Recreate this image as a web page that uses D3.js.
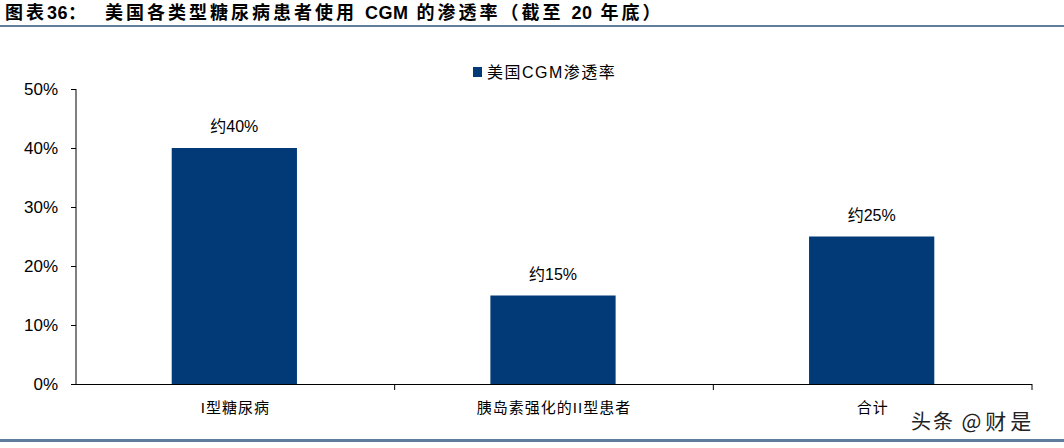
<!DOCTYPE html>
<html><head><meta charset="utf-8">
<script src="https://cdn.jsdelivr.net/npm/d3@7/dist/d3.min.js"></script>
<style>body{margin:0;background:#fff}svg{display:block}</style>
</head><body><svg id="c" width="1064" height="448"></svg>
<script>
const categories = ["I型糖尿病", "胰岛素强化的II型患者", "合计"];
const values = [40, 15, 25];
const valueLabels = ["约40%", "约15%", "约25%"];
const yTicks = [0, 10, 20, 30, 40, 50];
const seriesName = "美国CGM渗透率";
const titlePrefixParts = ["图表", "36", "："];
const titleParts = ["美国各类型糖尿病患者使用 ", "CGM", " 的渗透率（截至 ", "20", " 年底）"];

const svg = d3.select("#c");
const cjk = "'Liberation Sans', 'Noto Sans CJK SC', sans-serif";
const latin = "'Liberation Sans', Arial, sans-serif";
const barColor = "#023a78";
const ruleColor = "#5f7d9c";

// title
const tp = svg.append("text").attr("x", 5).attr("y", 19).attr("font-family", cjk)
  .attr("font-weight", "bold").attr("font-size", 18).attr("fill", "#000");
titlePrefixParts.forEach((p, i) => {
  tp.append("tspan").attr("letter-spacing", i % 2 ? 0.5 : 3).text(p);
});
const tt = svg.append("text").attr("x", 105).attr("y", 19).attr("font-family", cjk)
  .attr("font-weight", "bold").attr("font-size", 18).attr("fill", "#000");
titleParts.forEach((p, i) => {
  tt.append("tspan").attr("letter-spacing", i % 2 ? 0.5 : 3).text(p);
});
svg.append("rect").attr("x", 0).attr("y", 25).attr("width", 1064).attr("height", 2).attr("fill", ruleColor);
svg.append("rect").attr("x", 0).attr("y", 439).attr("width", 1064).attr("height", 3).attr("fill", ruleColor);

const x = d3.scaleBand().domain(categories).range([76, 1032]).paddingInner(0).paddingOuter(0);
const y = d3.scaleLinear().domain([0, 50]).range([384, 89]);
const barW = x.bandwidth() * 0.393;

// bars
svg.selectAll("rect.bar").data(values).enter().append("rect").attr("class", "bar")
  .attr("x", (d, i) => x(categories[i]) + x.bandwidth() / 2 - barW / 2 - 1)
  .attr("y", d => y(d)).attr("width", barW).attr("height", d => y(0) - y(d))
  .attr("fill", barColor);

// value labels
svg.selectAll("text.vl").data(values).enter().append("text").attr("class", "vl")
  .attr("x", (d, i) => x(categories[i]) + x.bandwidth() / 2 - 1)
  .attr("y", d => y(d) - 16).attr("text-anchor", "middle")
  .attr("font-family", cjk).attr("font-size", 16).attr("fill", "#000")
  .text((d, i) => valueLabels[i]);

// y axis
const yAxis = svg.append("g").attr("transform", "translate(76,0)")
  .call(d3.axisLeft(y).tickValues(yTicks).tickFormat(d => d + "%").tickSize(5).tickPadding(13));
yAxis.select(".domain").attr("stroke", "#000").attr("d", "M0,89V384");
yAxis.selectAll("line").attr("stroke", "#000");
yAxis.selectAll("text").attr("font-family", latin).attr("font-size", 17).attr("fill", "#000").attr("dy", "0.35em");

// x axis
const xg = svg.append("g").attr("transform", "translate(0,384)");
xg.append("line").attr("x1", 76).attr("x2", 1032).attr("y1", 0.5).attr("y2", 0.5).attr("stroke", "#000");
const bounds = categories.slice(1).map(c => x(c)).concat([x.range()[1]]);
xg.selectAll("line.tk").data(bounds).enter().append("line").attr("class", "tk")
  .attr("x1", d => d).attr("x2", d => d).attr("y1", 0).attr("y2", 6).attr("stroke", "#000");
xg.selectAll("text").data(categories).enter().append("text")
  .attr("x", d => x(d) + x.bandwidth() / 2).attr("y", 29).attr("text-anchor", "middle")
  .attr("font-family", cjk).attr("font-size", 15).attr("letter-spacing", 1).attr("fill", "#000").text(d => d);

// legend
svg.append("rect").attr("x", 473).attr("y", 67).attr("width", 9).attr("height", 10).attr("fill", barColor);
svg.append("text").attr("x", 487).attr("y", 78).attr("font-family", cjk).attr("font-size", 16)
  .attr("letter-spacing", 1.5).attr("fill", "#000").text(seriesName);

// watermark
const wm = svg.append("text").attr("x", 911).attr("y", 429).attr("font-family", "'Noto Sans CJK SC', sans-serif")
  .attr("font-size", 20).attr("fill", "#222");
wm.append("tspan").attr("letter-spacing", 2).text("头条 ");
wm.append("tspan").attr("letter-spacing", 4).attr("font-size", 21).text("@财是");
</script></body></html>
